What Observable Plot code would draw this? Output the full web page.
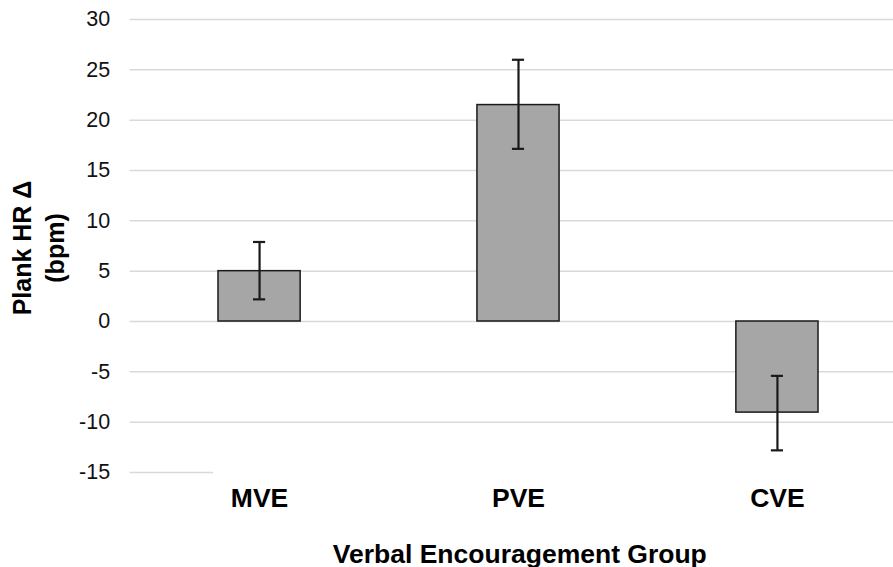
<!DOCTYPE html>
<html>
<head>
<meta charset="utf-8">
<script src="https://cdn.jsdelivr.net/npm/d3@7"></script>
<script src="https://cdn.jsdelivr.net/npm/@observablehq/plot@0.6"></script>
<style>
  html, body { margin: 0; padding: 0; background: #fff; }
  svg { display: block; }
</style>
</head>
<body>
<div id="chart"></div>
<script>
const groups = ["MVE", "PVE", "CVE"];
const means = [5.0, 21.5, -9.05];
const lower = [2.2, 17.15, -12.8];
const upper = [7.9, 26.0, -5.4];
const yTicks = [30, 25, 20, 15, 10, 5, 0, -5, -10, -15];
const yTitle = "Plank HR Δ\n(bpm)";
const xTitle = "Verbal Encouragement Group";

const data = groups.map((g, i) => ({group: g, mean: means[i], lo: lower[i], hi: upper[i]}));
const font = "Arial, 'Liberation Sans', sans-serif";

const chart = Plot.plot({
  width: 893,
  height: 567,
  marginLeft: 129.6,
  marginRight: 0,
  marginTop: 19,
  marginBottom: 95,
  style: {fontFamily: font, color: "#000", background: "#fff"},
  x: {domain: groups, range: [129.6, 906.4], padding: 0, round: false},
  y: {domain: [-15, 30], ticks: yTicks},
  marks: [
    Plot.ruleY(yTicks.filter(d => d > -15), {stroke: "#d9d9d9", strokeWidth: 1.5, strokeOpacity: 1}),
    Plot.ruleY([-15], {insetRight: 680, stroke: "#d9d9d9", strokeWidth: 1.5, strokeOpacity: 1}),
    Plot.barY(data, {x: "group", y: "mean", fill: "#a6a6a6", stroke: "#1a1a1a", strokeWidth: 1.5, insetLeft: 88.4, insetRight: 88.4}),
    Plot.ruleX(data, {x: "group", y1: "lo", y2: "hi", stroke: "#1a1a1a", strokeWidth: 2.2}),
    Plot.tickY(data, {x: "group", y: "lo", stroke: "#1a1a1a", strokeWidth: 2.2, insetLeft: 123.4, insetRight: 123.4}),
    Plot.tickY(data, {x: "group", y: "hi", stroke: "#1a1a1a", strokeWidth: 2.2, insetLeft: 123.4, insetRight: 123.4}),
    Plot.axisY({ticks: yTicks, tickFormat: d => String(d), tickSize: 0, tickPadding: 20, fontSize: 21.5, label: null, fill: "#111"}),
    Plot.axisX({tickSize: 0, tickPadding: 16, fontSize: 26.5, fontWeight: "bold", label: null, fill: "#000"}),
    Plot.text([xTitle], {frameAnchor: "bottom", lineAnchor: "bottom", dx: 8, dy: 90, text: d => d, fontSize: 26.5, fontWeight: "bold", fill: "#000"}),
    Plot.text([yTitle], {frameAnchor: "left", textAnchor: "middle", dx: -93, dy: 2, rotate: -90, text: d => d, fontSize: 25, fontWeight: "bold", lineHeight: 1.3, fill: "#000"})
  ]
});
document.getElementById("chart").appendChild(chart);
</script>
</body>
</html>
